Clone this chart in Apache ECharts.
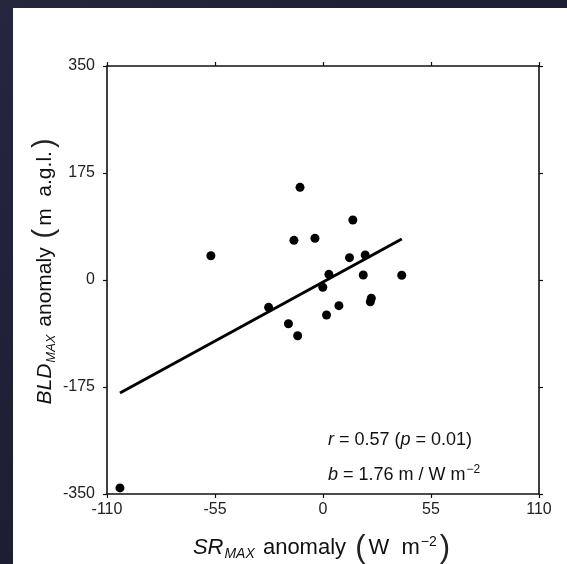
<!DOCTYPE html>
<html>
<head>
<meta charset="utf-8">
<script src="https://cdn.jsdelivr.net/npm/echarts@6/dist/echarts.min.js"></script>
<style>
  html, body { margin: 0; padding: 0; }
  #page { position: relative; width: 567px; height: 564px; background: linear-gradient(135deg, #26273f 0%, #1b1c31 60%, #17182b 100%); overflow: hidden; }
  #chart { position: absolute; left: 13px; top: 8px; width: 554px; height: 556px; background: #ffffff; }
</style>
</head>
<body>
<div id="page"><div id="chart"></div></div>
<script>
// SR_MAX anomaly (W m^-2) for each point
const srAnomaly = [-103.4, -57.1, -27.7, -17.6, -12.9, -14.8, -11.7, -4.1, -0.1, 3.0, 1.8, 8.1, 13.5, 15.2, 20.5, 21.5, 24.6, 24.1, 40.1];
// BLD_MAX anomaly (m a.g.l.) for each point
const bldAnomaly = [-340, 39.7, -44.7, -71.5, -91.1, 64.9, 151.6, 68.2, -11.9, 9.3, -57.2, -42, 36.5, 98.1, 8.2, 40.9, -29.9, -35.5, 7.7];
// Regression line end points
const fitX = [-103.4, 40.1];
const fitY = [-184.8, 67.1];
// Axis ranges / tick steps
const xMin = -110, xMax = 110, xStep = 55;
const yMin = -350, yMax = 350, yStep = 175;
const statR = '0.57', statP = '0.01', statB = '1.76';

const points = srAnomaly.map((x, i) => [x, bldAnomaly[i]]);
const fitLine = fitX.map((x, i) => [x, fitY[i]]);

const chart = echarts.init(document.getElementById('chart'), null, { renderer: 'canvas' });
const FONT = '"Liberation Sans", Arial, sans-serif';
const axisLine = { show: true, onZero: false, lineStyle: { color: '#111', width: 1.6 } };
const axisTick = { show: true, inside: false, length: 4, lineStyle: { color: '#111', width: 1.2 } };

function makeRich(base) {
  return {
    it: { fontStyle: 'italic', fontSize: base, lineHeight: base + 2, verticalAlign: 'middle', fontFamily: FONT, fill: '#111' },
    sub: { fontStyle: 'italic', fontSize: Math.round(base * 0.64), lineHeight: 14, verticalAlign: 'bottom', padding: [0, 2, 4, 1], fontFamily: FONT, fill: '#111' },
    n: { fontSize: base, lineHeight: base + 2, verticalAlign: 'middle', fontFamily: FONT, fill: '#111' },
    p: { fontSize: Math.round(base * 1.4), lineHeight: 34, verticalAlign: 'middle', fontFamily: FONT, fontWeight: 'lighter', fill: '#222', padding: [0, 3, 0, 3] },
    sup: { fontSize: Math.round(base * 0.64), lineHeight: 14, verticalAlign: 'top', padding: [4, 0, 0, 1], fontFamily: FONT, fill: '#111' }
  };
}

const option = {
  animation: false,
  textStyle: { fontFamily: FONT },
  grid: { left: 94, right: 28, top: 58, bottom: 70, containLabel: false },
  xAxis: [
    { type: 'value', position: 'bottom', min: xMin, max: xMax, interval: xStep,
      axisLine, axisTick, splitLine: { show: false },
      axisLabel: { color: '#222', fontSize: 16, margin: 8, fontFamily: FONT } },
    { type: 'value', position: 'top', min: xMin, max: xMax, interval: xStep,
      axisLine, axisTick, splitLine: { show: false }, axisLabel: { show: false } }
  ],
  yAxis: [
    { type: 'value', position: 'left', min: yMin, max: yMax, interval: yStep,
      axisLine, axisTick, splitLine: { show: false },
      axisLabel: { color: '#222', fontSize: 16, margin: 12, fontFamily: FONT } },
    { type: 'value', position: 'right', min: yMin, max: yMax, interval: yStep,
      axisLine, axisTick, splitLine: { show: false }, axisLabel: { show: false } }
  ],
  series: [
    { type: 'line', data: fitLine, symbol: 'none', lineStyle: { color: '#000', width: 3 }, z: 3, silent: true },
    { type: 'scatter', data: points, symbol: 'circle', symbolSize: 9, itemStyle: { color: '#000', opacity: 1 }, z: 4 }
  ],
  graphic: [
    { type: 'text', x: 310, y: 540, style: {
        text: '{it|SR}{sub|MAX}{n| anomaly }{p|(}{n|W  m}{sup|−2}{p|)}',
        align: 'center', verticalAlign: 'middle', fill: '#111', font: '22px ' + FONT,
        rich: makeRich(22) } },
    { type: 'text', x: 32, y: 262, rotation: Math.PI / 2, style: {
        text: '{it|BLD}{sub|MAX}{n| anomaly }{p|(}{n|m  a.g.l.}{p|)}',
        align: 'center', verticalAlign: 'middle', fill: '#111', font: '21px ' + FONT,
        rich: makeRich(21) } },
    { type: 'text', x: 315, y: 432, style: {
        text: '{i|r}{n| = ' + statR + ' (}{i|p}{n| = ' + statP + ')}',
        align: 'left', verticalAlign: 'middle', fill: '#111', font: '18px ' + FONT,
        rich: {
          i: { fontStyle: 'italic', fontSize: 18, lineHeight: 20, fontFamily: FONT, fill: '#111' },
          n: { fontSize: 18, lineHeight: 20, fontFamily: FONT, fill: '#111' }
        } } },
    { type: 'text', x: 315, y: 466, style: {
        text: '{i|b}{n| = ' + statB + ' m / W m}{sup|−2}',
        align: 'left', verticalAlign: 'middle', fill: '#111', font: '18px ' + FONT,
        rich: {
          i: { fontStyle: 'italic', fontSize: 18, lineHeight: 20, verticalAlign: 'bottom', fontFamily: FONT, fill: '#111' },
          n: { fontSize: 18, lineHeight: 20, verticalAlign: 'bottom', fontFamily: FONT, fill: '#111' },
          sup: { fontSize: 12, lineHeight: 12, verticalAlign: 'top', padding: [0, 0, 0, 1], fontFamily: FONT, fill: '#111' }
        } } }
  ]
};
chart.setOption(option);
</script>
</body>
</html>
